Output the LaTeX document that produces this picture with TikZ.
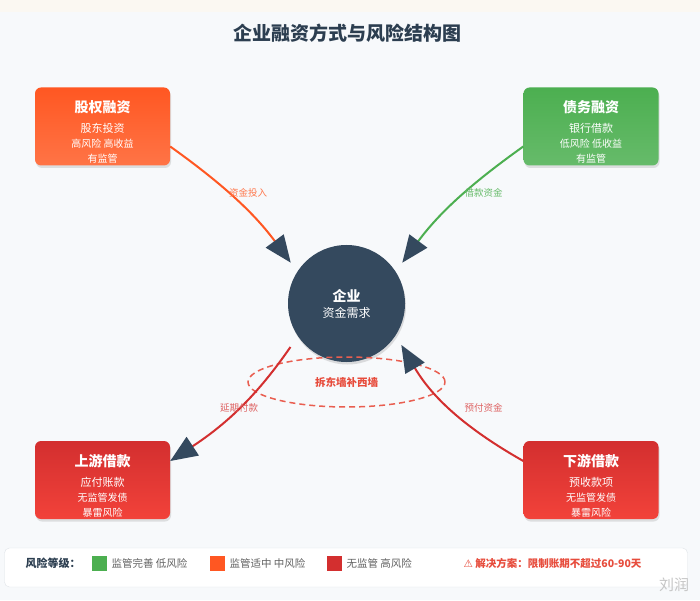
\documentclass[tikz,border=0pt]{standalone}
\usepackage{fontspec}
\setmainfont{Noto Sans CJK SC}
\newfontfamily\symfont{DejaVu Sans}
\usetikzlibrary{arrows.meta,shadows,shapes.geometric,positioning}
\definecolor{darkblue}{HTML}{34495E}
\definecolor{titleblue}{HTML}{2C3E50}
\definecolor{eqtop}{HTML}{FF5722}
\definecolor{eqbot}{HTML}{FF7446}
\definecolor{debttop}{HTML}{4CAF50}
\definecolor{debtbot}{HTML}{66BB6A}
\definecolor{loantop}{HTML}{D32F2F}
\definecolor{loanbot}{HTML}{F2423A}
\definecolor{warnred}{HTML}{E74C3C}
\definecolor{bgcol}{HTML}{F7F9FB}
\definecolor{stripcol}{HTML}{FBF8F2}
\definecolor{legendline}{HTML}{DFE3E8}
\newcommand{\fs}[1]{\fontsize{#1}{#1}\selectfont}

\begin{document}
\begin{tikzpicture}[x=1pt,y=1pt,
    finbox/.style={rounded corners=6pt, minimum width=135pt, minimum height=78pt,
        drop shadow={opacity=0.22, shadow xshift=1pt, shadow yshift=-2.5pt}},
    boxtext/.style={align=center, text=white, font={\fontsize{10}{15}\selectfont}},
    flow/.style={line width=2pt, -{Triangle[length=27pt, width=22pt, color=darkblue, fill=darkblue]}},
    flowlabel/.style={font=\fs{9.5}},
    swatch/.style={minimum size=15pt, inner sep=0pt},
    legendtext/.style={anchor=west, text=black!62, font=\fs{10.5}}]
    % background
    \fill[bgcol] (0,0) rectangle (700,600);
    \fill[stripcol] (0,588) rectangle (700,600);
    \useasboundingbox (0,0) rectangle (700,600);
    \node[font=\fs{19}\bfseries, text=titleblue] (title) at (347,567) {企业融资方式与风险结构图};

    % four sources
    \node[finbox, top color=eqtop, bottom color=eqbot] (equity) at (102.5,473.5) {};
    \node[boxtext] (equitytext) at ([yshift=-5.5pt]equity.center) {{\fs{14}\bfseries 股权融资}\\[5pt]{\fs{11}股东投资}\\高风险 高收益\\有监管};
    \node[finbox, top color=debttop, bottom color=debtbot] (debt) at (591,473.5) {};
    \node[boxtext] (debttext) at ([yshift=-5.5pt]debt.center) {{\fs{14}\bfseries 债务融资}\\[5pt]{\fs{11}银行借款}\\低风险 低收益\\有监管};
    \node[finbox, top color=loantop, bottom color=loanbot] (upstream) at (102.5,120) {};
    \node[boxtext] (upstreamtext) at ([yshift=-5.5pt]upstream.center) {{\fs{14}\bfseries 上游借款}\\[5pt]{\fs{11}应付账款}\\无监管发债\\暴雷风险};
    \node[finbox, top color=loantop, bottom color=loanbot] (downstream) at (591,120) {};
    \node[boxtext] (downstreamtext) at ([yshift=-5.5pt]downstream.center) {{\fs{14}\bfseries 下游借款}\\[5pt]{\fs{11}预收款项}\\无监管发债\\暴雷风险};

    % the firm
    \node[circle, fill=darkblue, minimum size=117pt, text=white, align=center,
        font={\fontsize{12}{16}\selectfont},
        drop shadow={opacity=0.25, shadow xshift=1pt, shadow yshift=-2.5pt}] (firm) at (346.5,296.5)
        {{\fs{14}\bfseries 企业}\\资金需求};
    \node[ellipse, draw=warnred!90, line width=1.5pt, dash pattern=on 6pt off 4pt,
        minimum width=197pt, minimum height=50pt, text=warnred, font=\fs{10.5}\bfseries] (wall) at (346.5,218) {拆东墙补西墙};

    % money flows
    \draw[flow, eqtop, shorten >=11pt] ([yshift=-20pt]equity.east) to[bend left=9] (firm.147);
    \draw[flow, debttop, shorten >=11pt] ([yshift=-20pt]debt.west) to[bend right=9] (firm.33);
    \draw[flow, loantop, shorten <=13pt] (firm.214) to[bend left=11] ([yshift=19pt]upstream.east);
    \draw[flow, loantop, shorten >=11pt] ([yshift=19pt]downstream.west) to[bend left=15] (firm.327);
    \node[flowlabel, text=eqtop!80] (investlabel) at (248,407) {资金投入};
    \node[flowlabel, text=debttop!85] (loanlabel) at (483.5,407) {借款资金};
    \node[flowlabel, text=loantop!75] (delaylabel) at (239,192) {延期付款};
    \node[flowlabel, text=loantop!75] (prepaylabel) at (483.5,192) {预付资金};

    % legend
    \node[draw=legendline, fill=white, rounded corners=5pt, minimum width=683pt, minimum height=39pt] (legend) at (346,32.5) {};
    \node[anchor=west, font=\fs{11}\bfseries, text=titleblue] (risklevel) at (22,36.5) {风险等级：};
    \node[swatch, fill=debttop] (lowswatch) at (99.5,36.5) {};
    \node[legendtext] (lowtext) at (108,36.5) {监管完善 低风险};
    \node[swatch, fill=eqtop] (midswatch) at (217.5,36.5) {};
    \node[legendtext] (midtext) at (226,36.5) {监管适中 中风险};
    \node[swatch, fill=loantop] (highswatch) at (334.5,36.5) {};
    \node[legendtext] (hightext) at (343,36.5) {无监管 高风险};
    \node[anchor=west, font=\fs{10.5}\bfseries, text=warnred] (solution) at (460,36.5) {{\symfont ⚠} 解决方案：限制账期不超过60-90天};
    \node[text=gray!45, font=\fs{15}] (watermark) at (674,15) {刘润};
\end{tikzpicture}
\end{document}
